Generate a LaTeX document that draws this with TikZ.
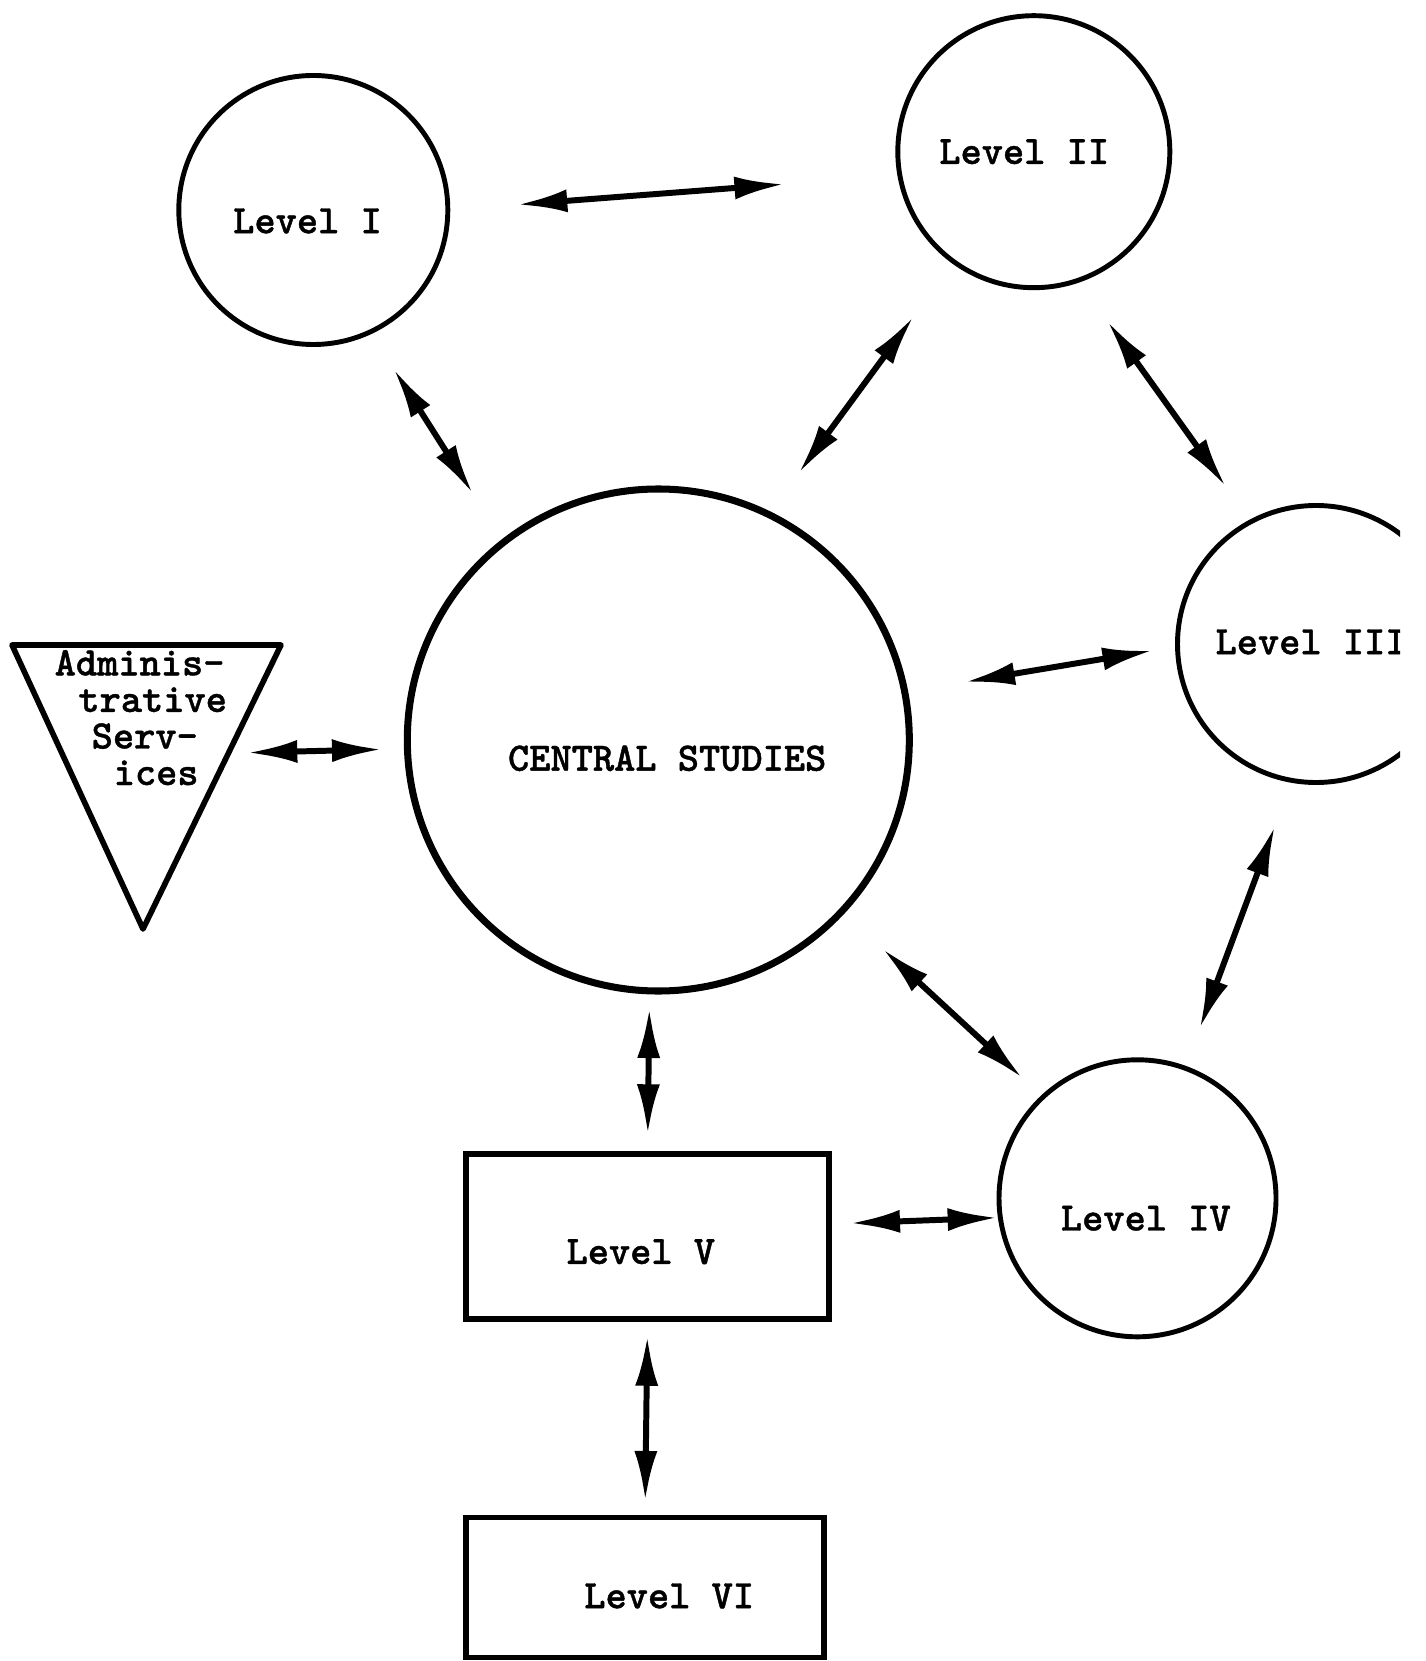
\documentclass[tikz,border=0pt]{standalone}
\usepackage{fontspec}
\usepackage{tikz}
\usetikzlibrary{arrows.meta}
\newfontfamily\lvmono{lmmonolt10-bold.otf}[FakeBold=1]
\newcommand{\lvfont}{\lvmono\fontsize{11.5}{10.4}\selectfont}

\begin{document}
\begin{tikzpicture}[
        lvl/.style={circle, draw, line width=1.4pt, inner sep=0pt, outer sep=0pt},
        box/.style={rectangle, draw, line width=1.6pt, inner sep=0pt, outer sep=0pt},
        lbl/.style={font=\lvfont, inner sep=0pt},
        biarrow/.style={{Latex[length=5mm,width=2.3mm]}-{Latex[length=5mm,width=2.3mm]}, line width=1.7pt}]
        \useasboundingbox (0,0) rectangle (14.25,-16.61);
        \clip (0,0) rectangle (14.0,-16.61);
        \node[lvl, minimum size=2.69cm, label={[lbl,xshift=-0.058cm,yshift=-0.11cm]center:Level I}] (lv1) at (3.133,-2.10) {};
        \node[lvl, minimum size=2.72cm, label={[lbl,xshift=-0.096cm]center:Level II}] (lv2) at (10.338,-1.517) {};
        \node[lvl, minimum size=2.77cm, label={[lbl,xshift=-0.05cm,yshift=0.02cm]center:Level III}] (lv3) at (13.16,-6.44) {};
        \node[lvl, line width=2pt, minimum size=5.02cm, label={[lbl,xshift=0.089cm,yshift=-0.183cm]center:CENTRAL STUDIES}] (cs) at (6.583,-7.40) {};
        \node[lvl, minimum size=2.77cm, label={[lbl,xshift=0.083cm,yshift=-0.20cm]center:Level IV}] (lv4) at (11.375,-11.983) {};
        \node[box, minimum width=3.634cm, minimum height=1.65cm, label={[lbl,xshift=-0.067cm,yshift=-0.15cm]center:Level V}] (lv5) at (6.475,-12.367) {};
        \node[box, minimum width=3.584cm, minimum height=1.40cm, label={[lbl,xshift=0.242cm,yshift=-0.085cm]center:Level VI}] (lv6) at (6.45,-15.875) {};
        \draw[line width=1.6pt, line join=round] (0.12,-6.45) -- (2.81,-6.45) -- (1.43,-9.29) -- cycle;
        \node[lbl, align=left, anchor=base west] (adm) at (0.54,-7.85) {Adminis-\\\hspace*{0.237cm}trative\\\hspace*{0.37cm}Serv-\\\hspace*{0.59cm}ices};
        \coordinate (admr) at (2.473,-7.527);
        \draw[biarrow, shorten >=0.255cm] (admr) -- (cs.182.2);
        \draw[biarrow, shorten <=0.697cm, shorten >=1.158cm] (lv1.0) -- (lv2.-170.2);
        \draw[biarrow, shorten <=0.44cm, shorten >=0.577cm] (lv1.-65.9) -- (cs.128.6);
        \draw[biarrow, shorten <=0.683cm, shorten >=0.513cm] (lv2.-126.7) -- (cs.64);
        \draw[biarrow, shorten <=0.504cm, shorten >=0.432cm] (lv2.-71.2) -- (lv3.118.3);
        \draw[biarrow, shorten <=0.611cm, shorten >=0.255cm] (cs.11.9) -- (lv3.181.2);
        \draw[biarrow, shorten <=0.488cm, shorten >=0.423cm] (lv3.-100) -- (lv4.70.7);
        \draw[biarrow, shorten <=0.556cm, shorten >=0.282cm] (cs.-43.2) -- (lv4.133.8);
        \draw[biarrow, shorten <=0.172cm, shorten >=0.199cm] (cs.-92.6) -- (lv5.north);
        \draw[biarrow, shorten <=0.208cm, shorten >=0.027cm] (lv5.4.9) -- (lv4.188.3);
        \draw[biarrow, shorten <=0.165cm, shorten >=0.165cm] (lv5.south) -- (lv6.north);
    \end{tikzpicture}
\end{document}
